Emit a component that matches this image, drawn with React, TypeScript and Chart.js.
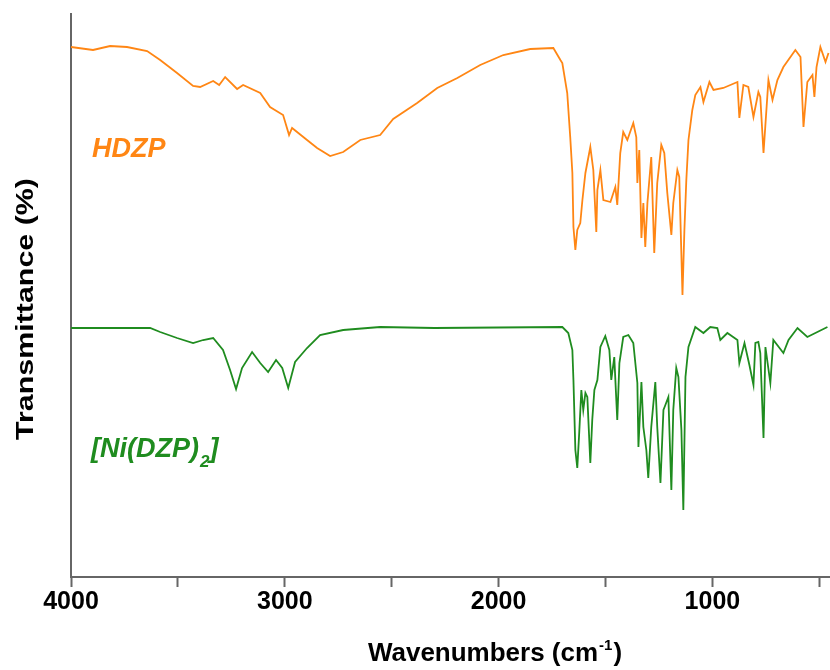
import React, { useEffect, useRef } from "react";
import { Chart, registerables } from "chart.js";

Chart.register(...registerables);

// Wavenumbers (cm^-1) and transmittance (arbitrary units)
const hdzpWavenumbers = [
  4000, 3897, 3817, 3738, 3644, 3583, 3504, 3429, 3396, 3335, 3307, 3279, 3223, 3195, 3115, 3069,
  3008, 2980, 2966, 2896, 2849, 2788, 2727, 2647, 2554, 2493, 2381, 2287, 2193, 2086, 1978, 1852,
  1744, 1711, 1702, 1679, 1665, 1655, 1650, 1641, 1632, 1618, 1608, 1594, 1571, 1557, 1543, 1538,
  1524, 1510, 1477, 1454, 1445, 1431, 1417, 1398, 1370, 1356, 1351, 1342, 1332, 1323, 1314, 1304,
  1286, 1272, 1258, 1239, 1225, 1211, 1192, 1183, 1164, 1155, 1140, 1131, 1122, 1112, 1094, 1080,
  1056, 1042, 1014, 995, 949, 883, 874, 855, 832, 808, 785, 776, 761, 738, 719, 696, 668, 612, 588,
  574, 556, 532, 523, 513, 495, 471, 457,
];
const hdzpValues = [
  530, 527, 531, 530, 526, 517, 504, 491, 490, 496, 492, 500, 488, 492, 484, 470,
  462, 442, 449, 437, 429, 421, 425, 437, 442, 458, 474, 489, 499, 512, 522, 528,
  529, 517, 514, 484, 440, 404, 350, 327, 347, 354, 377, 404, 430, 407, 345, 387,
  407, 377, 375, 390, 372, 424, 445, 437, 454, 440, 394, 427, 339, 374, 330, 374,
  420, 324, 394, 432, 424, 384, 342, 374, 407, 400, 282, 347, 397, 437, 467, 482,
  490, 475, 495, 487, 489, 495, 459, 492, 490, 460, 485, 480, 424, 497, 477, 497, 510, 527, 520,
  450, 495, 502, 480, 510, 530, 515, 524,
];

const niWavenumbers = [
  4000, 3630, 3583, 3504, 3429, 3382, 3335, 3289, 3256, 3228, 3200, 3153, 3115, 3078, 3041, 3012,
  2984, 2952, 2896, 2835, 2727, 2554, 2300, 1702, 1674, 1655, 1650, 1641, 1632, 1623, 1613, 1604,
  1594, 1585, 1571, 1562, 1552, 1538, 1524, 1501, 1482, 1473, 1459, 1445, 1435, 1417, 1393, 1370,
  1351, 1346, 1332, 1323, 1309, 1300, 1286, 1267, 1258, 1243, 1229, 1220, 1206, 1192, 1183, 1169,
  1159, 1145, 1136, 1126, 1112, 1080, 1042, 1010, 977, 963, 930, 883, 874, 850, 827, 808, 799, 785,
  776, 761, 752, 729, 715, 668, 644, 602, 556, 509, 462,
];
const niValues = [
  249, 249, 245, 239, 234, 237, 239, 227, 207, 188, 209, 225, 214, 205, 217, 209,
  189, 215, 229, 242, 247, 250, 249, 250, 244, 227, 197, 127, 109, 144, 187, 167,
  184, 180, 114, 157, 187, 197, 230, 241, 227, 197, 220, 157, 214, 240, 242, 234,
  194, 130, 195, 150, 127, 99, 150, 195, 150, 94, 167, 172, 180, 87, 167, 209,
  200, 147, 67, 200, 230, 250, 244, 250, 249, 237, 244, 237, 214, 234, 212, 192, 234, 235,
  224, 139, 230, 194, 237, 224, 237, 249, 240, 245, 250,
];

const xTicks = [4000, 3500, 3000, 2500, 2000, 1500, 1000, 500];
const seriesNames = ["HDZP", "[Ni(DZP)2]"];
const yTitle = "Transmittance (%)";

const ORANGE = "#ff8614";
const GREEN = "#1f8c1f";
const AXIS = "#666666";
const FONT = '"Liberation Sans", Arial, sans-serif';

const toPoints = (xs: number[], ys: number[]) => xs.map((x, i) => ({ x, y: ys[i] }));

const textPlugin = {
  id: "spectraText",
  afterDraw(chart: any) {
    const ctx = chart.ctx as CanvasRenderingContext2D;
    ctx.save();
    ctx.textBaseline = "alphabetic";
    ctx.textAlign = "left";
    // series labels
    ctx.font = `italic bold 27px ${FONT}`;
    ctx.fillStyle = ORANGE;
    ctx.fillText(seriesNames[0], 92, 157);
    ctx.fillStyle = GREEN;
    const main = "[Ni(DZP)";
    ctx.fillText(main, 91, 457);
    let x = 91 + ctx.measureText(main).width;
    ctx.font = `italic bold 17px ${FONT}`;
    ctx.fillText("2", x + 1, 467);
    x += ctx.measureText("2").width + 1;
    ctx.font = `italic bold 27px ${FONT}`;
    ctx.fillText("]", x, 457);

    // x axis title with superscript
    const big = `bold 26px ${FONT}`;
    const small = `bold 15px ${FONT}`;
    ctx.fillStyle = "#000";
    ctx.font = big;
    const p1 = "Wavenumbers (cm";
    const w1 = ctx.measureText(p1).width;
    const w3 = ctx.measureText(")").width;
    ctx.font = small;
    const w2 = ctx.measureText("-1").width;
    const total = w1 + w2 + w3 + 2;
    let sx = 495 - total / 2;
    const base = 661;
    ctx.font = big;
    ctx.fillText(p1, sx, base);
    sx += w1 + 1;
    ctx.font = small;
    ctx.fillText("-1", sx, base - 11);
    sx += w2 + 1;
    ctx.font = big;
    ctx.fillText(")", sx, base);

    // y axis title (rotated, slightly stretched like the reference)
    ctx.font = big;
    const tw = ctx.measureText(yTitle).width;
    ctx.translate(26, 309);
    ctx.rotate(-Math.PI / 2);
    ctx.scale(262 / tw, 0.95);
    ctx.textAlign = "center";
    ctx.textBaseline = "middle";
    ctx.fillText(yTitle, 0, 0);
    ctx.restore();
  },
};

export default function App() {
  const ref = useRef<HTMLCanvasElement>(null);
  useEffect(() => {
    document.body.style.margin = "0";
    const canvas = ref.current;
    if (!canvas) return;
    const chart = new Chart(canvas, {
      type: "line",
      data: {
        datasets: [
          {
            label: seriesNames[0],
            data: toPoints(hdzpWavenumbers, hdzpValues),
            borderColor: ORANGE,
            borderWidth: 1.8,
            pointRadius: 0,
            tension: 0,
            fill: false,
          },
          {
            label: seriesNames[1],
            data: toPoints(niWavenumbers, niValues),
            borderColor: GREEN,
            borderWidth: 1.8,
            pointRadius: 0,
            tension: 0,
            fill: false,
          },
        ],
      },
      options: {
        responsive: false,
        animation: false,
        parsing: false as any,
        layout: { padding: { top: 14, right: 0, left: 0, bottom: 0 } },
        plugins: { legend: { display: false }, tooltip: { enabled: false } },
        scales: {
          x: {
            type: "linear",
            reverse: true,
            min: 450,
            max: 4000,
            afterBuildTicks: (s: any) => {
              s.ticks = xTicks.map((v) => ({ value: v }));
            },
            afterFit: (s: any) => {
              s.height = 93;
            },
            ticks: {
              autoSkip: false,
              maxRotation: 0,
              padding: 0,
              color: "#000",
              font: { family: FONT, size: 25, weight: "bold" },
              callback: (v: any) => (Number(v) % 1000 === 0 ? String(v) : ""),
            },
            grid: {
              drawOnChartArea: false,
              drawTicks: true,
              tickLength: 10,
              tickColor: AXIS,
              tickWidth: 2,
            },
            border: { display: true, color: AXIS, width: 2 },
          },
          y: {
            type: "linear",
            min: 0,
            max: 563,
            afterFit: (s: any) => {
              s.width = 71;
            },
            ticks: { display: false },
            grid: { display: false, drawTicks: false },
            border: { display: true, color: AXIS, width: 2 },
          },
        },
      },
      plugins: [textPlugin],
    });
    return () => chart.destroy();
  }, []);
  return <canvas ref={ref} width={830} height={670} style={{ display: "block" }} />;
}
